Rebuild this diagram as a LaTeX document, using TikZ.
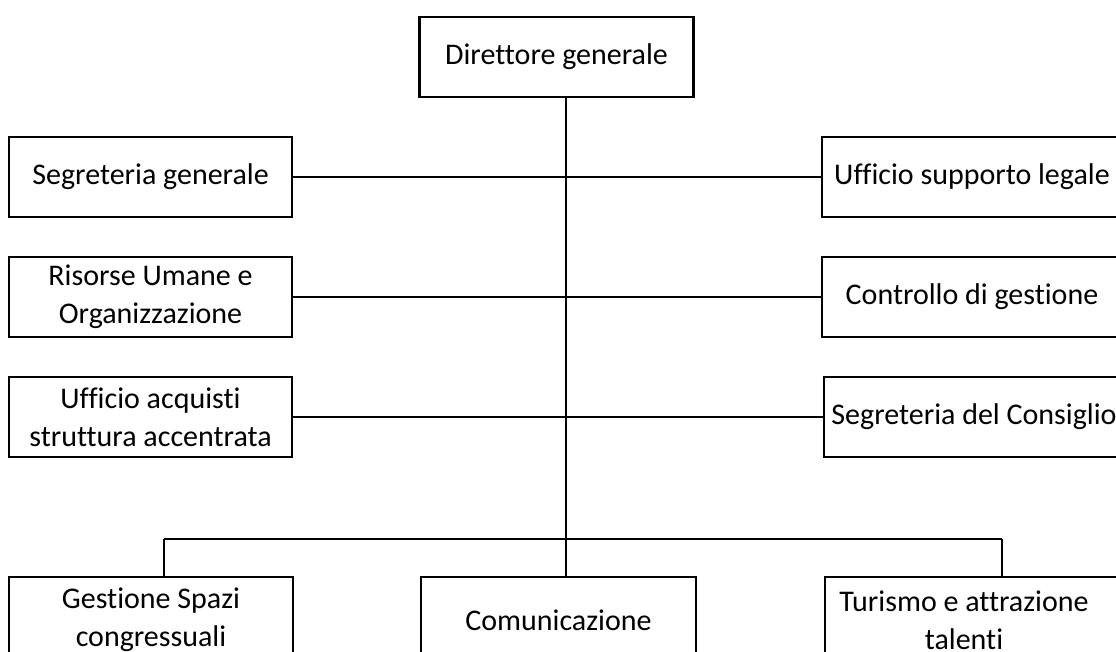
\documentclass[tikz,border=0pt]{standalone}
\usepackage{fontspec}
\setmainfont{Carlito}[Ligatures={NoCommon}]
\begin{document}
\begin{tikzpicture}[x=1pt,y=-1pt,
  box/.style={draw=black,line width=2.5pt,minimum height=80pt,inner sep=0pt,align=center,
    font=\fontsize{30}{38}\selectfont},
  link/.style={draw=black,line width=2pt}]
\useasboundingbox (0,0) rectangle (1116,651);
\clip (0,0) rectangle (1116,651);
\node[box,minimum width=274pt] (dg) at (556.5,57) {Direttore generale};
\node[box,minimum width=283pt] (sg) at (150.5,177) {Segreteria generale};
\node[box,minimum width=283pt] (ru) at (150.5,297) {Risorse Umane e\\Organizzazione};
\node[box,minimum width=283pt] (ua) at (150.5,417) {Ufficio acquisti\\struttura accentrata};
\node[box,minimum width=300pt] (ul) at (972,177) {Ufficio supporto legale};
\node[box,minimum width=300pt] (cg) at (972,297) {Controllo di gestione};
\node[box,minimum width=300pt] (sc) at (974,417) {Segreteria del Consiglio};
\node[box,minimum width=284pt,minimum height=86pt] (gs) at (151,620) {Gestione Spazi\\congressuali};
\node[box,minimum width=275pt,minimum height=86pt] (co) at (558.5,620) {Comunicazione};
\node[box,minimum width=300pt,minimum height=86pt] (tu) at (975,620) {\hspace*{-22pt}Turismo e attrazione\\\hspace*{-22pt}talenti};
\coordinate (top) at (566,97);
\coordinate (mid) at (566,539);
\coordinate (bl) at (164,539);
\coordinate (br) at (1002,539);
\draw[link] (top) -- (mid) -- (co.north -| mid);
\draw[link] (sg.east) -- (ul.west);
\draw[link] (ru.east) -- (cg.west);
\draw[link] (ua.east) -- (sc.west);
\draw[link] (bl) -- (br);
\draw[link] (bl) -- (bl |- gs.north);
\draw[link] (br) -- (br |- tu.north);
\end{tikzpicture}
\end{document}
